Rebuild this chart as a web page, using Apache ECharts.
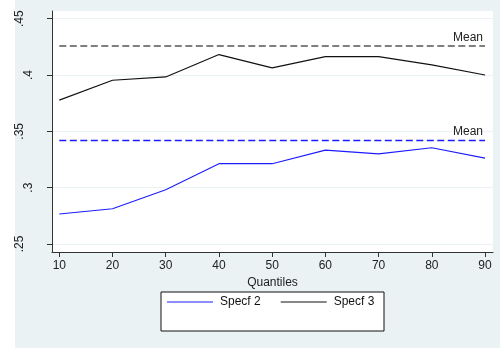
<!DOCTYPE html>
<html>
<head>
<meta charset="utf-8">
<script src="https://cdn.jsdelivr.net/npm/echarts@6/dist/echarts.min.js"></script>
<style>
  html, body { margin: 0; padding: 0; background: #ffffff; }
  #chart { width: 500px; height: 353px; }
</style>
</head>
<body>
<div id="chart"></div>
<script>
// Quantile levels on the x axis
const quantiles = [10, 20, 30, 40, 50, 60, 70, 80, 90];

// Estimates per quantile for each specification
const specf2 = [0.2766, 0.2813, 0.2981, 0.3213, 0.3213, 0.3333, 0.3300, 0.3354, 0.3262];
const specf3 = [0.3777, 0.3954, 0.3983, 0.4181, 0.4063, 0.4163, 0.4163, 0.4090, 0.4000];

// Mean (OLS) reference levels
const meanSpecf2 = 0.3422;
const meanSpecf3 = 0.4264;

// Axis ticks and their printed labels
const xTicks = [10, 20, 30, 40, 50, 60, 70, 80, 90];
const yTicks = [0.25, 0.30, 0.35, 0.40, 0.45];
const yTickLabels = ['.25', '.3', '.35', '.4', '.45'];

const FONT = 'Liberation Sans, Arial, sans-serif';
const BG = '#eaf2f3';

const yLabelFor = v => {
  const i = yTicks.findIndex(t => Math.abs(t - v) < 1e-9);
  return i >= 0 ? yTickLabels[i] : '';
};

const yLong = yTicks.filter((v, i) => yTickLabels[i].length > 2);
const yShort = yTicks.filter((v, i) => yTickLabels[i].length <= 2);

const toPairs = arr => quantiles.map((q, i) => [q, arr[i]]);

const meanLine = (value, color, width) => ({
  silent: true,
  symbol: ['none', 'none'],
  lineStyle: { color: color, width: width, type: [7, 3.5] },
  label: {
    show: true,
    formatter: 'Mean',
    position: 'insideEndTop',
    distance: 2,
    color: '#222',
    fontFamily: FONT,
    fontSize: 12
  },
  emphasis: { disabled: true },
  data: [[{ coord: [quantiles[0], value] }, { coord: [quantiles[quantiles.length - 1], value] }]]
});

const chart = echarts.init(document.getElementById('chart'), null, { renderer: 'canvas' });

const yMin = 0.2429, yMax = 0.4568;

chart.setOption({
  backgroundColor: BG,
  animation: false,
  textStyle: { fontFamily: FONT },
  graphic: [
    { type: 'rect', z: 0, shape: { x: 0, y: 0, width: 15, height: 353 }, style: { fill: '#ffffff' } },
    { type: 'rect', z: 0, shape: { x: 0, y: 348, width: 500, height: 5 }, style: { fill: '#ffffff' } },
    { type: 'rect', z: 0, shape: { x: 161, y: 292, width: 223, height: 39 },
      style: { fill: '#ffffff', stroke: '#111', lineWidth: 1 } }
  ],
  grid: {
    left: 52, right: 7, top: 11, bottom: 101,
    show: true, backgroundColor: '#ffffff', borderWidth: 0
  },
  legend: {
    z: 10,
    left: 167, top: 296,
    padding: 0,
    itemWidth: 46, itemHeight: 1.2,
    itemGap: 20,
    icon: 'rect',
    data: ['Specf 2', 'Specf 3'],
    textStyle: { fontFamily: FONT, fontSize: 12, color: '#111', padding: [0, 0, 0, 2] }
  },
  xAxis: {
    type: 'value',
    min: 8.628, max: 91.5,
    name: 'Quantiles',
    nameLocation: 'middle',
    nameGap: 20,
    nameTextStyle: { fontFamily: FONT, fontSize: 12, color: '#222' },
    axisLine: { show: true, onZero: false, lineStyle: { color: '#333', width: 1 } },
    axisTick: { show: true, length: 5, customValues: xTicks, lineStyle: { color: '#333' } },
    axisLabel: { customValues: xTicks, margin: 8, fontFamily: FONT, fontSize: 12, color: '#222' },
    splitLine: { show: false }
  },
  yAxis: [
    {
      type: 'value',
      position: 'left',
      min: yMin, max: yMax,
      axisLine: { show: true, onZero: false, lineStyle: { color: '#333', width: 1 } },
      axisTick: { show: true, length: 5, customValues: yTicks, lineStyle: { color: '#333' } },
      axisLabel: {
        customValues: yLong, rotate: 90, margin: 26,
        formatter: yLabelFor, fontFamily: FONT, fontSize: 12, color: '#222'
      },
      splitLine: { show: true, lineStyle: { color: BG, width: 1 } }
    },
    {
      type: 'value',
      position: 'left',
      min: yMin, max: yMax,
      axisLine: { show: false },
      axisTick: { show: false },
      axisLabel: {
        customValues: yShort, rotate: 90, margin: 17.5,
        formatter: yLabelFor, fontFamily: FONT, fontSize: 12, color: '#222'
      },
      splitLine: { show: false }
    }
  ],
  series: [
    {
      name: 'Specf 2',
      type: 'line',
      yAxisIndex: 0,
      data: toPairs(specf2),
      showSymbol: false,
      symbol: 'none',
      color: '#1c1cff',
      lineStyle: { color: '#1c1cff', width: 1.1 },
      markLine: meanLine(meanSpecf2, '#1c1cff', 1.4)
    },
    {
      name: 'Specf 3',
      type: 'line',
      yAxisIndex: 0,
      data: toPairs(specf3),
      showSymbol: false,
      symbol: 'none',
      color: '#111111',
      lineStyle: { color: '#111111', width: 1.1 },
      markLine: meanLine(meanSpecf3, '#555555', 1.6)
    }
  ]
});
</script>
</body>
</html>
